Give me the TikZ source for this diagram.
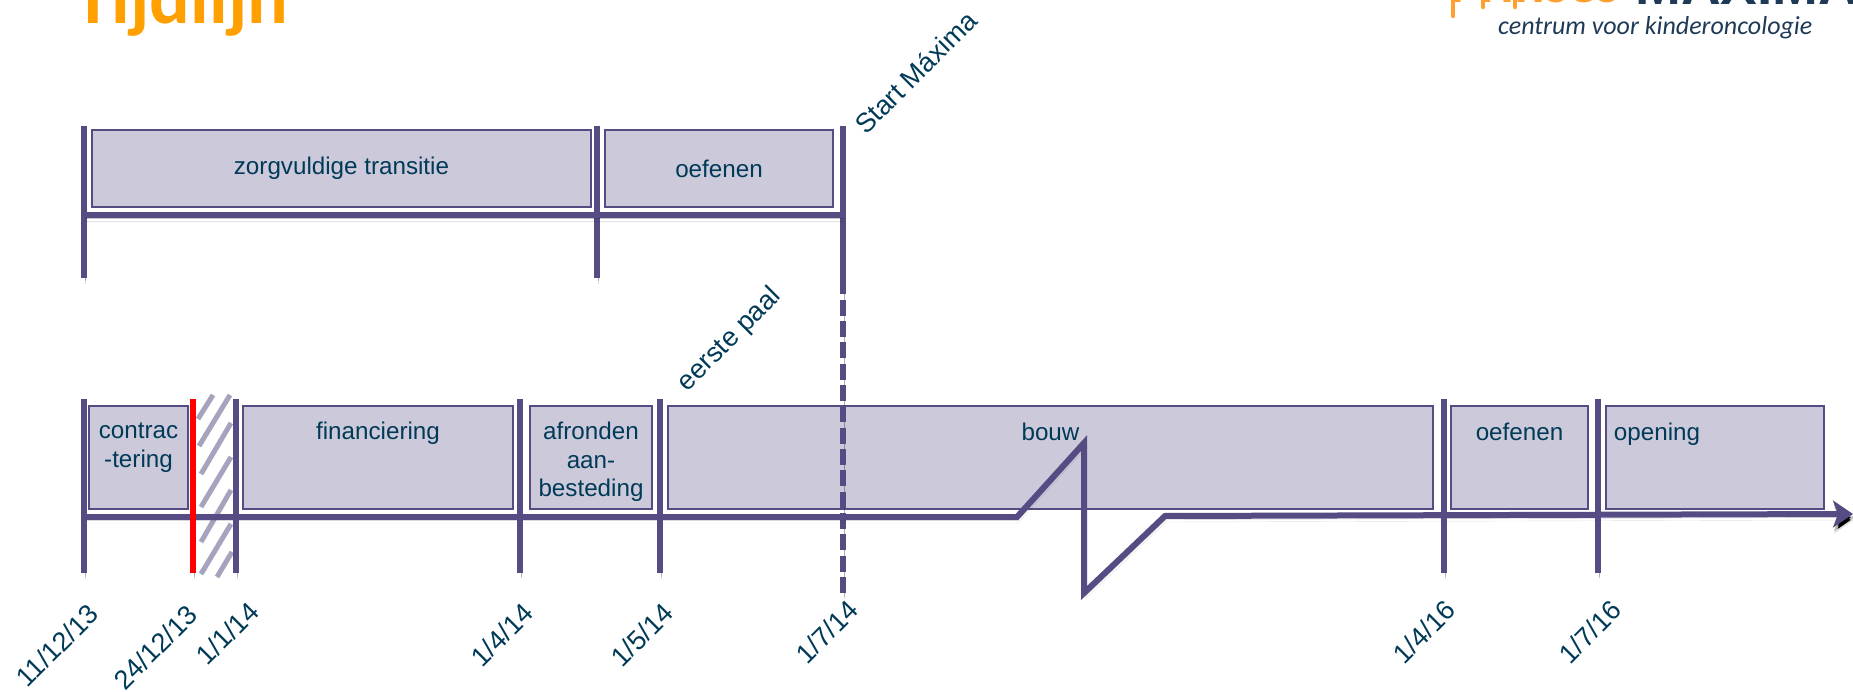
\documentclass[tikz,border=0pt]{standalone}
\usepackage{fontspec}
\setmainfont{Liberation Sans}
\newfontfamily\titlefont{Carlito}
\newfontfamily\logofont{Carlito}
\usetikzlibrary{arrows.meta}
\usetikzlibrary{positioning}
\definecolor{barcol}{HTML}{564B82}
\definecolor{boxfill}{HTML}{CCC9DB}
\definecolor{textcol}{HTML}{003A57}
\definecolor{titlecol}{HTML}{FF9F00}
\definecolor{logocol}{HTML}{FF9F2E}
\definecolor{logodark}{HTML}{1F3A57}
\definecolor{hatchcol}{HTML}{A7A3BF}
\tikzstyle{point} = [coordinate]
\tikzstyle{dropshadow} = [preaction={draw=black,draw opacity=0.12,transform canvas={xshift=1pt,yshift=-6pt}},preaction={draw=black,draw opacity=0.22,transform canvas={xshift=1pt,yshift=-3.5pt}}]
\tikzstyle{bar} = [draw=barcol,line width=6pt,dropshadow]
\tikzstyle{block} = [draw=barcol,fill=boxfill,line width=2pt,inner sep=0pt,text=textcol,font=\fontsize{24.2}{28.5}\selectfont]
\tikzstyle{blocktext} = [text=textcol,align=center,inner sep=0pt,font=\fontsize{24.2}{28.5}\selectfont]
\tikzstyle{datelabel} = [text=textcol,rotate=45,inner sep=0pt,font=\fontsize{27}{30}\selectfont]
\begin{document}
\begin{tikzpicture}[x=1pt,y=-1pt]
    \useasboundingbox (0,0) rectangle (1853,692);

    % heading and logo, cut off by the top edge
    \node [anchor=base west,inner sep=0pt,text=titlecol,font=\titlefont\bfseries\fontsize{76}{76}\selectfont,name=title] at (74,24) {Tijdlijn};
    \node [anchor=base west,inner sep=0pt,text=logocol,font=\titlefont\bfseries\fontsize{57}{57}\selectfont,name=logoleft] at (1450,3) {Prinses};
    \node [anchor=base west,inner sep=0pt,text=logodark,font=\bfseries\fontsize{55}{55}\selectfont,name=logoright] at (1635,5) {MÁXIMA};
    \node [anchor=base west,inner sep=0pt,text=logodark,font=\logofont\itshape\fontsize{26}{26}\selectfont,name=logo] at (1498,35) {centrum voor kinderoncologie};
    \foreach \x/\y in {1453/16,1483/7,1515/7}
      \draw [draw=logocol,line width=4.5pt,line cap=round] (\x,-2) -- (\x,\y);

    % upper blocks
    \node [block,minimum width=499pt,minimum height=77pt,name=careful] at (341.5,168.5) {\raisebox{-5pt}{zorgvuldige transitie}};
    \node [block,minimum width=228pt,minimum height=77pt,name=practice] at (719,168.5) {\raisebox{-3pt}{oefenen}};

    % lower blocks
    \node [block,minimum width=99pt,minimum height=103pt,name=contract] at (138.5,457.5) {};
    \node [block,minimum width=270pt,minimum height=103pt,name=finance] at (378,457.5) {};
    \node [block,minimum width=122pt,minimum height=103pt,name=tender] at (591,457.5) {};
    \node [block,minimum width=765pt,minimum height=103pt,name=build] at (1050.5,457.5) {};
    \node [block,minimum width=137pt,minimum height=103pt,name=practicetwo] at (1519.5,457.5) {};
    \node [block,minimum width=218pt,minimum height=103pt,name=opening] at (1715,457.5) {};

    \node [blocktext,below=18pt of contract.north,name=contracttext] {contrac\\-tering};
    \node [blocktext,below=17pt of finance.north,name=financetext] {financiering};
    \node [blocktext,below=17pt of tender.north,name=tendertext] {afronden\\aan-\\besteding};
    \node [blocktext,below=18pt of build.north,name=buildtext] {bouw};
    \node [blocktext,below=18pt of practicetwo.north,name=practicetwotext] {oefenen};
    \node [blocktext,below=18pt of opening.north,xshift=-58pt,name=openingtext] {opening};

    % upper axis
    \node [point,name=upstart] at (84,215) {};
    \node [point,name=upend] at (843,215) {};
    \draw [bar] (84,126) -- (84,278);
    \draw [bar] (597,126) -- (597,278);
    \draw [bar] (843,126) -- (843,278);
    \draw [bar] (upstart) -- (upend);

    % start line down to the lower axis
    \draw [bar,dash pattern=on 16pt off 5.33pt] (843,278.4) -- (843,593);

    % hatched stretch
    \foreach \xa/\ya/\xb/\yb in {198/419/213/395, 199/446/230/395, 201/474/231/423, 201/507/231/457, 201/542/231/490, 201/574/231/524, 217/577/232/552}
      \draw [draw=hatchcol,line width=5pt] (\xa,\ya) -- (\xb,\yb);

    % lower axis
    \node [point,name=lowstart] at (84,517) {};
    \node [point,name=breakone] at (1017,517) {};
    \node [point,name=breaktop] at (1084,443) {};
    \node [point,name=breakbottom] at (1084,593) {};
    \node [point,name=breaktwo] at (1165,516) {};
    \node [point,name=lowend] at (1853,514) {};
    \draw [bar,-{Stealth[length=20pt,width=27pt,inset=5pt]}] (lowstart) -- (breakone) -- (breaktop) -- (breakbottom) -- (breaktwo) -- (lowend);

    \foreach \x in {84,236,520,660,1444,1598}
      \draw [bar] (\x,399) -- (\x,573);
    \draw [bar,draw=red] (193,399) -- (193,573);

    % dates
    \node [datelabel,name=dateone] at (57,645.5) {11/12/13};
    \node [datelabel,name=datetwo] at (155.5,647.5) {24/12/13};
    \node [datelabel,name=datethree] at (227.5,633.5) {1/1/14};
    \node [datelabel,name=datefour] at (502,635) {1/4/14};
    \node [datelabel,name=datefive] at (642,635) {1/5/14};
    \node [datelabel,name=datesix] at (827,632) {1/7/14};
    \node [datelabel,name=dateseven] at (1424,632) {1/4/16};
    \node [datelabel,name=dateeight] at (1590,632) {1/7/16};

    \node [datelabel,name=startlabel] at (915.5,72.5) {Start Máxima};
    \node [datelabel,name=pilelabel] at (730,340) {eerste paal};
  \end{tikzpicture}
\end{document}
